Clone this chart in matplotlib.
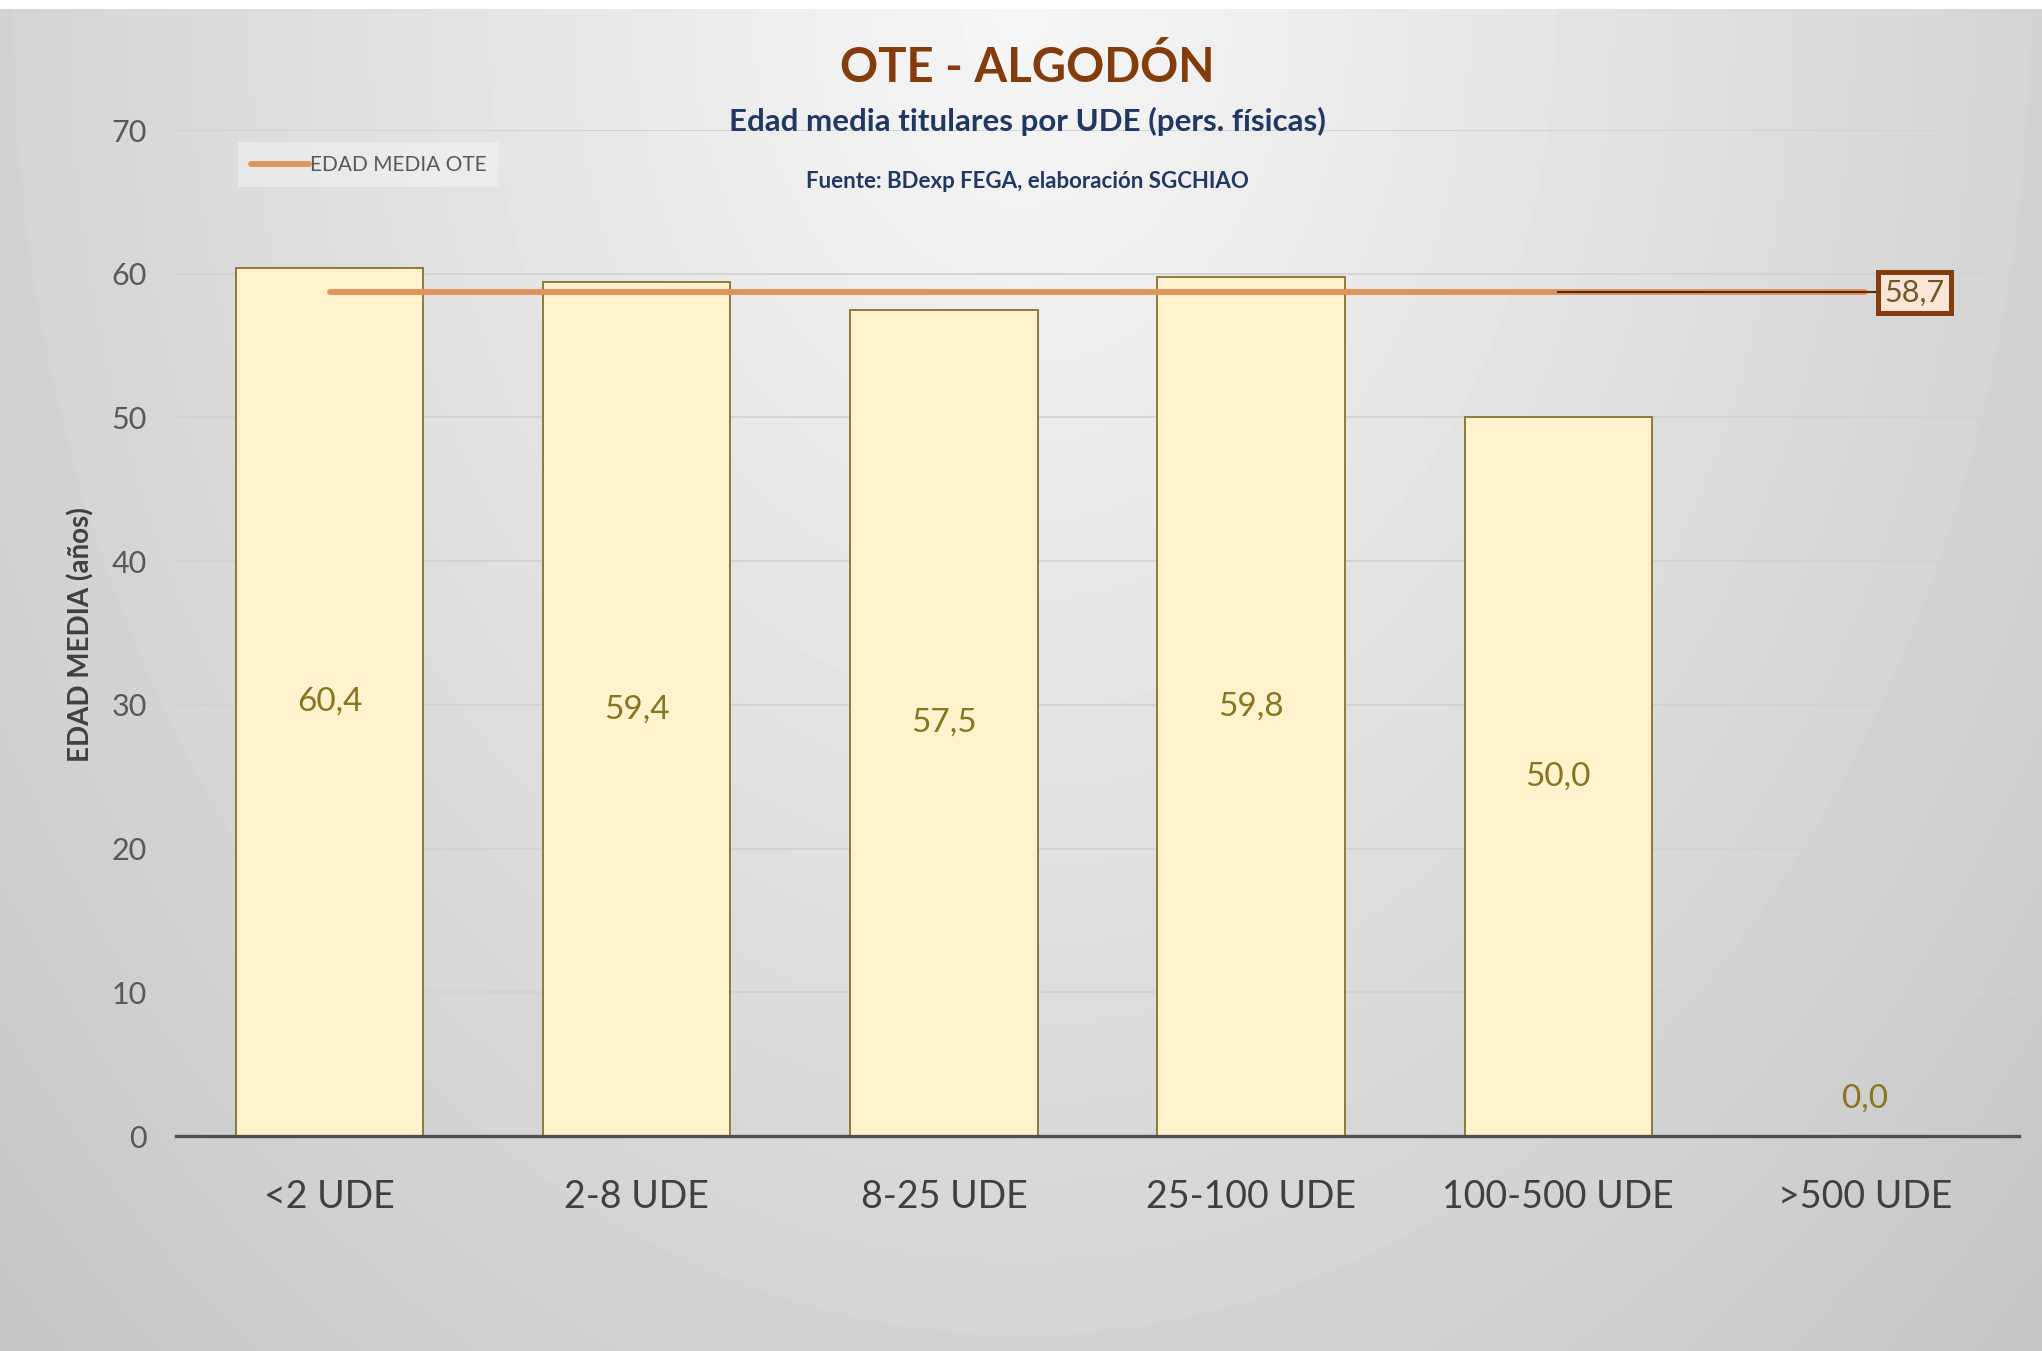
import numpy as np
import matplotlib
matplotlib.use("Agg")
import matplotlib.pyplot as plt
from matplotlib.lines import Line2D

# data
categorias = ["<2 UDE", "2-8 UDE", "8-25 UDE", "25-100 UDE", "100-500 UDE", ">500 UDE"]
edad_media = [60.4, 59.4, 57.5, 59.8, 50.0, 0.0]
edad_media_ote = [58.7, 58.7, 58.7, 58.7, 58.7, 58.7]
y_ticks = [0, 10, 20, 30, 40, 50, 60, 70]

TITLE = "OTE - ALGODÓN"
SUBTITLE = "Edad media titulares por UDE (pers. físicas)"
SOURCE = "Fuente: BDexp FEGA, elaboración SGCHIAO"

BROWN = "#843C0C"
NAVY = "#1F3864"
GRAY_TXT = "#595959"
BAR_FACE = "#FFF2CC"
BAR_EDGE = "#8C7A3C"
LABEL_COL = "#8A7420"
ORANGE = "#E2935A"

plt.rcParams["font.family"] = ["Lato", "DejaVu Sans"]

W, H = 2042, 1351
fig = plt.figure(figsize=(W / 100, H / 100), dpi=100)
fig.patch.set_facecolor("white")

# background gradient (light centre-top, grey edges), white strip on top
bg = fig.add_axes([0, 0, 1, 1 - 9 / H], zorder=-10)
gx, gy = np.meshgrid(np.linspace(0, 1, 400), np.linspace(0, 1, 300))
d = np.sqrt(((gx - 0.5) / 0.5) ** 2 + gy ** 2) / np.sqrt(2)
shade = np.clip(0.965 - 0.19 * d, 0, 1)
bg.imshow(shade, cmap="gray", vmin=0, vmax=1, aspect="auto",
          extent=[0, 1, 1, 0], interpolation="bilinear")
bg.set_axis_off()

ax = fig.add_axes([176 / W, 1 - 1136 / H, (2019 - 176) / W, (1136 - 130) / H])
ax.set_facecolor("none")
x = np.arange(len(categorias))

bars = ax.bar(x, edad_media, width=0.61, color=BAR_FACE, edgecolor=BAR_EDGE,
              linewidth=1.4, zorder=2)

for xi, v in zip(x, edad_media):
    if v > 0:
        ax.text(xi, v / 2, f"{v:.1f}".replace(".", ","), ha="center", va="center",
                fontsize=24, color=LABEL_COL, zorder=4)
    else:
        ax.annotate(f"{v:.1f}".replace(".", ","), (xi, v), xytext=(0, 27),
                    textcoords="offset points", ha="center", va="center",
                    fontsize=24, color=LABEL_COL, zorder=4)

line, = ax.plot(x, edad_media_ote, color=ORANGE, lw=4.2, solid_capstyle="round",
                zorder=3, label="EDAD MEDIA OTE")

# data label of the average line, pulled to the right with a leader line
lab_x = 5.16
ax.plot([4, lab_x - 0.12], [edad_media_ote[-1]] * 2, color="#5A2A12", lw=1.6, zorder=4)
ax.text(lab_x, edad_media_ote[-1], f"{edad_media_ote[-1]:.1f}".replace(".", ","),
        ha="center", va="center", fontsize=22, color="#6B5A2A", zorder=5,
        bbox=dict(boxstyle="square,pad=0.22", fc="#FCE4D6", ec=BROWN, lw=3.6))

ax.set_xlim(-0.5, 5.5)
ax.set_ylim(0, 70)
ax.set_yticks(y_ticks)
ax.set_xticks(x)
ax.set_xticklabels(categorias)
ax.tick_params(axis="y", length=0, pad=21, labelsize=22, labelcolor=GRAY_TXT)
ax.tick_params(axis="x", length=0, pad=31, labelsize=27, labelcolor="#404040")
ax.grid(axis="y", color="#D2D2D2", lw=1.3, zorder=0)
ax.set_axisbelow(True)
for s in ["top", "right", "left"]:
    ax.spines[s].set_visible(False)
ax.spines["bottom"].set_color("#505050")
ax.spines["bottom"].set_linewidth(2.4)
ax.spines["bottom"].set_zorder(3)

fig.text(81 / W, 1 - 487 * 1.3023 / H, "EDAD MEDIA (años)", rotation=90,
         ha="center", va="center", fontsize=20, fontweight="bold", color="#404040")

leg = ax.legend(handles=[Line2D([], [], color=ORANGE, lw=4.2, solid_capstyle="round")],
                labels=["EDAD MEDIA OTE"], loc="upper left",
                bbox_to_anchor=(228 / W, 1 - 132 / H), bbox_transform=fig.transFigure,
                fontsize=15, handlelength=2.8, handletextpad=0.05, borderpad=0.6,
                frameon=True, fancybox=False, labelcolor=GRAY_TXT)
leg.get_frame().set_facecolor("white")
leg.get_frame().set_alpha(0.35)
leg.get_frame().set_edgecolor("none")

fig.text(0.503, 1 - 68 / H, TITLE, ha="center", va="center", fontsize=34,
         fontweight="bold", color=BROWN)
fig.text(0.503, 1 - 121 / H, SUBTITLE, ha="center", va="center", fontsize=22.5,
         fontweight="bold", color=NAVY)
fig.text(0.503, 1 - 181 / H, SOURCE, ha="center", va="center", fontsize=16,
         fontweight="bold", color=NAVY)

fig.savefig("out.png", dpi=100)
